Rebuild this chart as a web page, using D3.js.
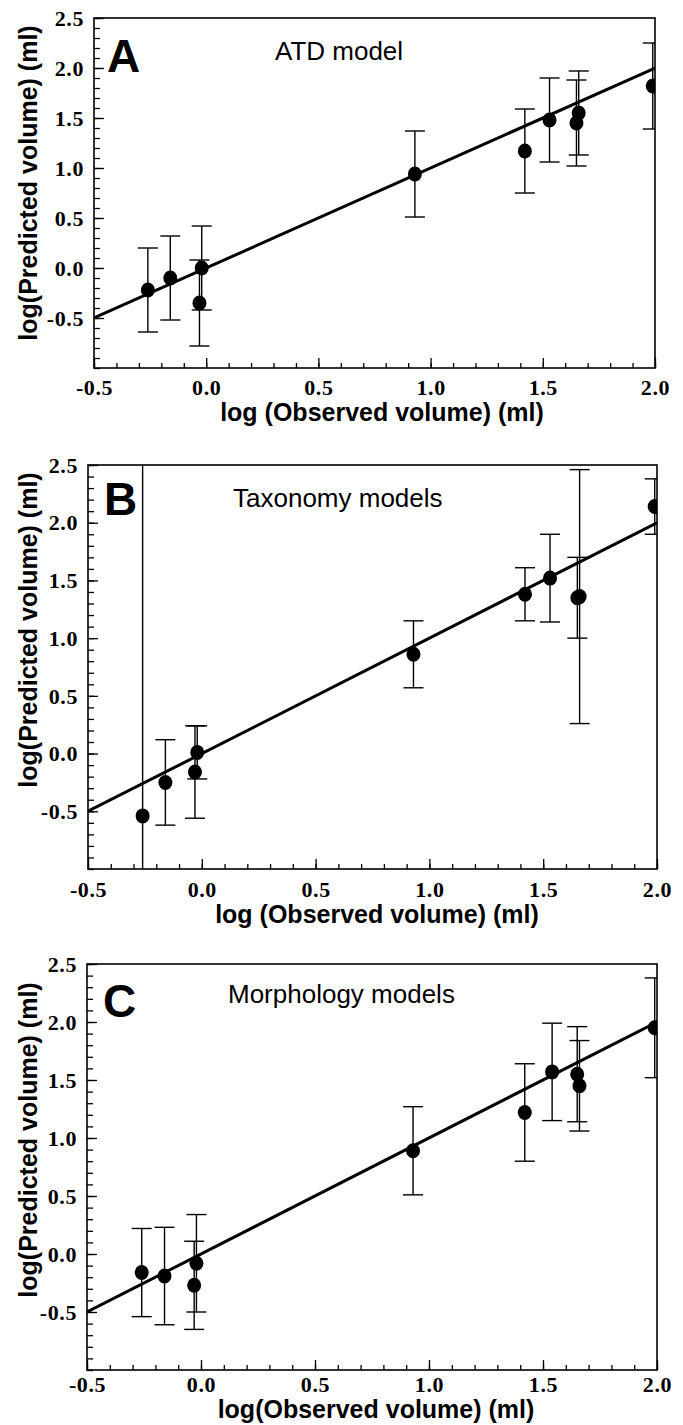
<!DOCTYPE html>
<html><head><meta charset="utf-8">
<script src="https://cdn.jsdelivr.net/npm/d3@7"></script>
<style>body{margin:0;background:#fff} svg{display:block}</style>
</head><body><svg id="chart" width="683" height="1425"></svg>
<script>
// ---------- data ----------
const xMajorTicks = [-0.5, 0, 0.5, 1, 1.5, 2];
const xTickLabels = ["-0.5", "0.0", "0.5", "1.0", "1.5", "2.0"];
const yMajorTicks = [-0.5, 0, 0.5, 1, 1.5, 2, 2.5];
const yTickLabels = ["-0.5", "0.0", "0.5", "1.0", "1.5", "2.0", "2.5"];
const xDomain = [-0.5, 2.0];
const yDomain = [-1.0, 2.5];
const panelLetters = ["A", "B", "C"];
const panelTitles = ["ATD model", "Taxonomy models", "Morphology models"];
const xAxisTitles = ["log (Observed volume) (ml)", "log (Observed volume) (ml)", "log(Observed volume) (ml)"];
const yAxisTitle = "log(Predicted volume) (ml)";

const observedA  = [-0.26, -0.16, -0.02, -0.03, 0.93, 1.42, 1.53, 1.66, 1.65, 1.99];
const predictedA = [-0.22, -0.10, 0.00, -0.35, 0.94, 1.17, 1.48, 1.55, 1.45, 1.82];
const errorA     = [0.42, 0.42, 0.42, 0.43, 0.43, 0.42, 0.42, 0.42, 0.43, 0.43];

const observedB  = [-0.26, -0.16, -0.02, -0.03, 0.93, 1.42, 1.53, 1.65, 1.66, 1.99];
const predictedB = [-0.54, -0.25, 0.01, -0.16, 0.86, 1.38, 1.52, 1.35, 1.36, 2.14];
const errorB     = [3.60, 0.37, 0.23, 0.40, 0.29, 0.23, 0.38, 0.35, 1.10, 0.24];

const observedC  = [-0.26, -0.16, -0.02, -0.03, 0.93, 1.42, 1.54, 1.65, 1.66, 1.99];
const predictedC = [-0.16, -0.19, -0.08, -0.27, 0.89, 1.22, 1.57, 1.55, 1.45, 1.95];
const errorC     = [0.38, 0.42, 0.42, 0.38, 0.38, 0.42, 0.42, 0.41, 0.39, 0.43];

const fitX = [-0.5, 2.0];
const fitY = [-0.5, 2.0];

// ---------- layout ----------
const layout = [
  {left: 94, right: 655, top: 18, bottom: 368, letterX: 107, letterY: 72, titleX: 275, titleY: 60,
   xLabY: 395, xTitleX: 382, xTitleY: 421, yTitleX: 37, yTitleY: 183},
  {left: 88, right: 657, top: 465, bottom: 869, letterX: 104, letterY: 515, titleX: 233, titleY: 507,
   xLabY: 897, xTitleX: 377, xTitleY: 923, yTitleX: 37, yTitleY: 630},
  {left: 87, right: 657, top: 964, bottom: 1370, letterX: 103, letterY: 1017, titleX: 228, titleY: 1003,
   xLabY: 1392, xTitleX: 376, xTitleY: 1418, yTitleX: 37, yTitleY: 1140}
];

const series = [
  {obs: observedA, pred: predictedA, err: errorA},
  {obs: observedB, pred: predictedB, err: errorB},
  {obs: observedC, pred: predictedC, err: errorC}
];

const svg = d3.select("#chart");
const serif = "'Liberation Serif', 'Times New Roman', serif";
const sans = "'Liberation Sans', Arial, Helvetica, sans-serif";

layout.forEach((L, i) => {
  const x = d3.scaleLinear().domain(xDomain).range([L.left, L.right]);
  const y = d3.scaleLinear().domain(yDomain).range([L.bottom, L.top]);
  const g = svg.append("g");
  const clipId = "clip" + i;
  svg.append("clipPath").attr("id", clipId).append("rect")
    .attr("x", L.left).attr("y", L.top).attr("width", L.right - L.left).attr("height", L.bottom - L.top);

  const S = series[i];
  const pts = S.obs.map((o, k) => ({o, p: S.pred[k], e: S.err[k]}));

  const plot = g.append("g").attr("clip-path", `url(#${clipId})`);
  plot.append("path")
    .datum(fitX.map((v, k) => [v, fitY[k]]))
    .attr("d", d3.line().x(d => x(d[0])).y(d => y(d[1])))
    .attr("stroke", "#000").attr("stroke-width", 3).attr("fill", "none");
  const eb = plot.selectAll("g.eb").data(pts).enter().append("g").attr("stroke", "#000").attr("stroke-width", 1.4);
  eb.append("line").attr("x1", d => x(d.o)).attr("x2", d => x(d.o))
    .attr("y1", d => y(d.p - d.e)).attr("y2", d => y(d.p + d.e));
  eb.append("line").attr("x1", d => x(d.o) - 10).attr("x2", d => x(d.o) + 10)
    .attr("y1", d => y(d.p + d.e)).attr("y2", d => y(d.p + d.e));
  eb.append("line").attr("x1", d => x(d.o) - 10).attr("x2", d => x(d.o) + 10)
    .attr("y1", d => y(d.p - d.e)).attr("y2", d => y(d.p - d.e));
  plot.selectAll("ellipse").data(pts).enter().append("ellipse")
    .attr("cx", d => x(d.o)).attr("cy", d => y(d.p)).attr("rx", 7).attr("ry", 7.5).attr("fill", "#000");

  const xMinor = g.append("g").attr("transform", `translate(0,${L.bottom})`)
    .call(d3.axisBottom(x).tickValues(x.ticks(25)).tickSize(-5).tickFormat(""));
  const xMajor = g.append("g").attr("transform", `translate(0,${L.bottom})`)
    .call(d3.axisBottom(x).tickValues(xMajorTicks).tickSize(-10).tickFormat((d, k) => xTickLabels[k]));
  const yMinor = g.append("g").attr("transform", `translate(${L.left},0)`)
    .call(d3.axisLeft(y).tickValues(y.ticks(35)).tickSize(-6).tickFormat(""));
  const yMajor = g.append("g").attr("transform", `translate(${L.left},0)`)
    .call(d3.axisLeft(y).tickValues(yMajorTicks).tickSize(-10).tickFormat((d, k) => yTickLabels[k]));
  [xMinor, xMajor, yMinor, yMajor].forEach(a => {
    a.select(".domain").remove();
    a.selectAll("line").attr("stroke", "#000").attr("stroke-width", 1.3);
  });
  xMajor.selectAll("text").attr("y", L.xLabY - L.bottom).attr("dy", null)
    .attr("font-family", serif).attr("font-weight", "bold").attr("font-size", 22)
    .attr("letter-spacing", 0.6).attr("fill", "#000");
  yMajor.selectAll("text").attr("x", -10).attr("dy", "0.33em")
    .attr("font-family", serif).attr("font-weight", "bold").attr("font-size", 22)
    .attr("letter-spacing", 0.6).attr("fill", "#000");

  g.append("rect").attr("x", L.left).attr("y", L.top).attr("width", L.right - L.left).attr("height", L.bottom - L.top)
    .attr("fill", "none").attr("stroke", "#000").attr("stroke-width", 1.6);

  g.append("text").attr("x", L.letterX).attr("y", L.letterY).text(panelLetters[i])
    .attr("font-family", sans).attr("font-weight", "bold").attr("font-size", 46);
  g.append("text").attr("x", L.titleX).attr("y", L.titleY).text(panelTitles[i])
    .attr("font-family", sans).attr("font-size", 26);
  g.append("text").attr("x", L.xTitleX).attr("y", L.xTitleY).attr("text-anchor", "middle").text(xAxisTitles[i])
    .attr("font-family", sans).attr("font-weight", "bold").attr("font-size", 25);
  g.append("text").attr("transform", `translate(${L.yTitleX},${L.yTitleY}) rotate(-90)`)
    .attr("text-anchor", "middle").text(yAxisTitle)
    .attr("font-family", sans).attr("font-weight", "bold").attr("font-size", 25);
});
</script></body></html>
